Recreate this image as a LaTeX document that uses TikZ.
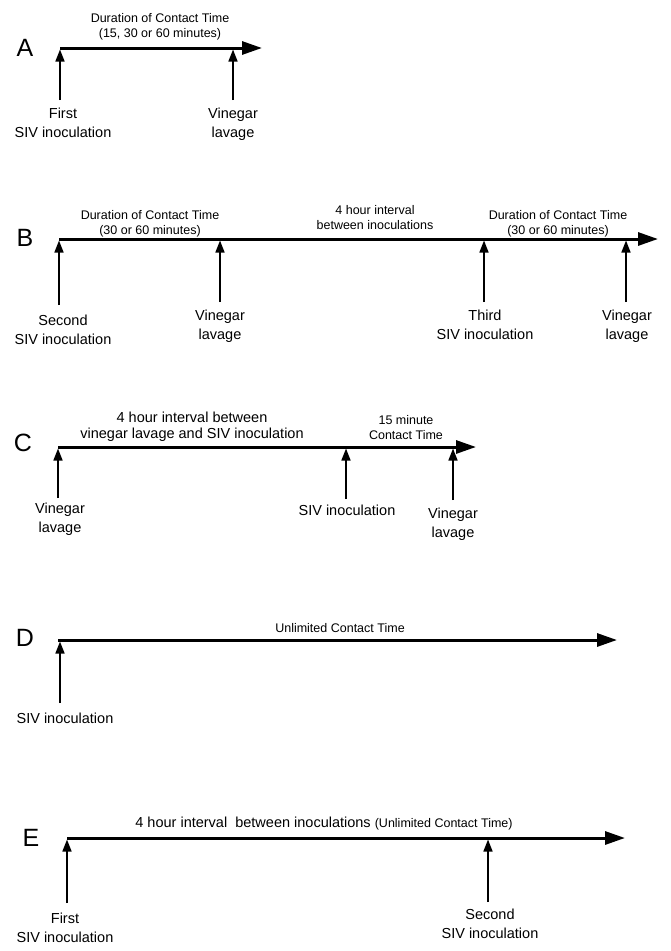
\documentclass[tikz,border=0pt]{standalone}
\usepackage{fontspec}
\setmainfont{Liberation Sans}
\usetikzlibrary{arrows.meta}

\begin{document}
\begin{tikzpicture}[x=1pt, y=-1pt,
                    letter/.style={inner sep=0, font=\fontsize{25}{30}\selectfont},
                    lbl/.style={inner sep=0, align=center, anchor=base, font=\fontsize{14.5}{19}\selectfont},
                    smalltext/.style={inner sep=0, align=center, anchor=base, font=\fontsize{12.5}{15}\selectfont},
                    timeline/.style={line width=3pt, -{Triangle[length=20pt,width=13pt]}},
                    event/.style={line width=1.6pt, -{Triangle[length=12pt,width=9pt]}, shorten >=1.5pt}]
                \useasboundingbox (0,0) rectangle (670,951);

                % A
                \node[letter] (A) at (25,48) {A};
                \coordinate (a0) at (60,48);
                \coordinate (a9) at (262,48);
                \draw[timeline] (a0) -- (a9);
                \node[smalltext] (atop) at (160,37.5) {Duration of Contact Time\\(15, 30 or 60 minutes)};
                \coordinate (a1) at (60,48);  \coordinate (a1b) at (60,100);
                \coordinate (a2) at (233,48); \coordinate (a2b) at (233,100);
                \draw[event] (a1b) -- (a1);
                \draw[event] (a2b) -- (a2);
                \node[lbl] (a1l) at (63,137) {First\\SIV inoculation};
                \node[lbl] (a2l) at (233,137) {Vinegar\\lavage};

                % B
                \node[letter] (B) at (25,238) {B};
                \coordinate (b0) at (59,239);
                \coordinate (b9) at (658,239);
                \draw[timeline] (b0) -- (b9);
                \node[smalltext] (btop1) at (150,234.5) {Duration of Contact Time\\(30 or 60 minutes)};
                \node[smalltext] (btop2) at (375,229.5) {4 hour interval\\between inoculations};
                \node[smalltext] (btop3) at (558,234.5) {Duration of Contact Time\\(30 or 60 minutes)};
                \coordinate (b1) at (59,239);  \coordinate (b1b) at (59,305);
                \coordinate (b2) at (220,239); \coordinate (b2b) at (220,302);
                \coordinate (b3) at (484,239); \coordinate (b3b) at (484,302);
                \coordinate (b4) at (626,239); \coordinate (b4b) at (626,302);
                \draw[event] (b1b) -- (b1);
                \draw[event] (b2b) -- (b2);
                \draw[event] (b3b) -- (b3);
                \draw[event] (b4b) -- (b4);
                \node[lbl] (b1l) at (63,344) {Second\\SIV inoculation};
                \node[lbl] (b2l) at (220,339) {Vinegar\\lavage};
                \node[lbl] (b3l) at (485,339) {Third\\SIV inoculation};
                \node[lbl] (b4l) at (627,339) {Vinegar\\lavage};

                % C
                \node[letter] (C) at (23,443) {C};
                \coordinate (c0) at (58,447);
                \coordinate (c9) at (476,447);
                \draw[timeline] (c0) -- (c9);
                \node[lbl, font=\fontsize{14.5}{16}\selectfont] (ctop1) at (192,438) {4 hour interval between\\vinegar lavage and SIV inoculation};
                \node[smalltext] (ctop2) at (406,439.5) {15 minute\\Contact Time};
                \coordinate (c1) at (58,447);  \coordinate (c1b) at (58,498);
                \coordinate (c2) at (346,447); \coordinate (c2b) at (346,499);
                \coordinate (c3) at (453,447); \coordinate (c3b) at (453,500);
                \draw[event] (c1b) -- (c1);
                \draw[event] (c2b) -- (c2);
                \draw[event] (c3b) -- (c3);
                \node[lbl] (c1l) at (60,532) {Vinegar\\lavage};
                \node[lbl] (c2l) at (347,515) {SIV inoculation};
                \node[lbl] (c3l) at (453,537) {Vinegar\\lavage};

                % D
                \node[letter] (D) at (25,638) {D};
                \coordinate (d0) at (58,640);
                \coordinate (d9) at (617,640);
                \draw[timeline] (d0) -- (d9);
                \node[smalltext] (dtop) at (340,632.5) {Unlimited Contact Time};
                \coordinate (d1) at (60,640); \coordinate (d1b) at (60,703);
                \draw[event] (d1b) -- (d1);
                \node[lbl] (d1l) at (65,723) {SIV inoculation};

                % E
                \node[letter] (E) at (31,838) {E};
                \coordinate (e0) at (67,838);
                \coordinate (e9) at (625,838);
                \draw[timeline] (e0) -- (e9);
                \node[lbl] (etop) at (324,827) {4 hour interval\ \ between inoculations {\fontsize{12.5}{15}\selectfont(Unlimited Contact Time)}};
                \coordinate (e1) at (67,838);  \coordinate (e1b) at (67,903);
                \coordinate (e2) at (488,838); \coordinate (e2b) at (488,902);
                \draw[event] (e1b) -- (e1);
                \draw[event] (e2b) -- (e2);
                \node[lbl] (e1l) at (65,942) {First\\SIV inoculation};
                \node[lbl] (e2l) at (490,938) {Second\\SIV inoculation};
            \end{tikzpicture}
\end{document}
